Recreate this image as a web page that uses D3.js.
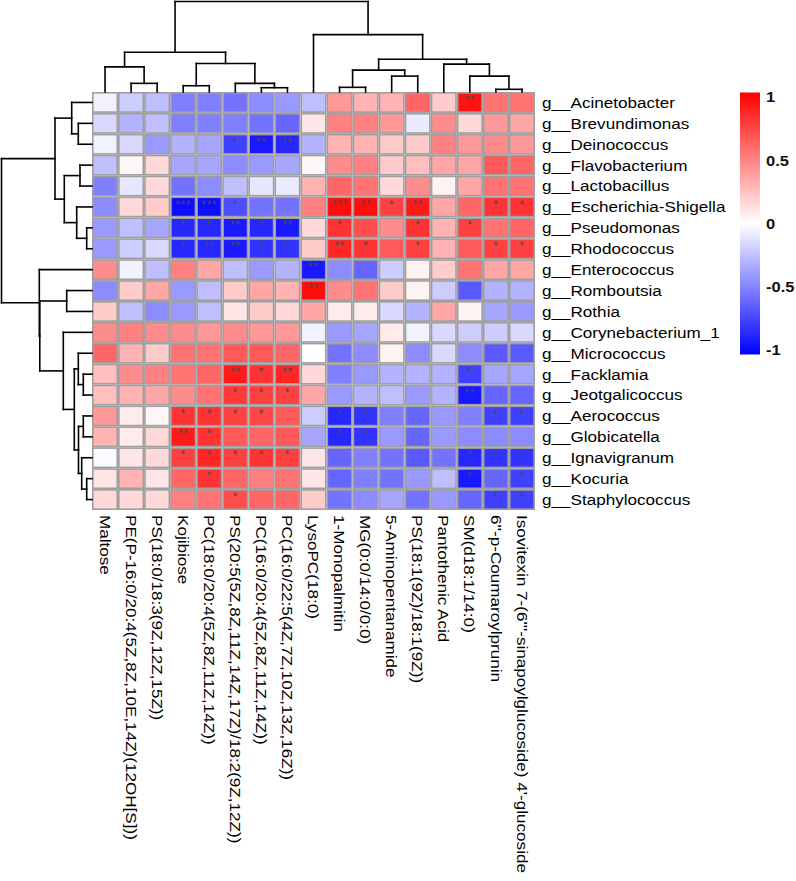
<!DOCTYPE html>
<html>
<head>
<meta charset="utf-8">
<script src="https://cdn.jsdelivr.net/npm/d3@7"></script>
<style>
  html, body { margin: 0; padding: 0; background: #fff; }
  svg { display: block; font-family: "Liberation Sans", Arial, Helvetica, sans-serif; }
</style>
</head>
<body>
<svg id="chart" width="796" height="881"></svg>
<script>
const rowLabels = ["g__Acinetobacter","g__Brevundimonas","g__Deinococcus","g__Flavobacterium","g__Lactobacillus",
  "g__Escherichia-Shigella","g__Pseudomonas","g__Rhodococcus","g__Enterococcus","g__Romboutsia","g__Rothia",
  "g__Corynebacterium_1","g__Micrococcus","g__Facklamia","g__Jeotgalicoccus","g__Aerococcus","g__Globicatella",
  "g__Ignavigranum","g__Kocuria","g__Staphylococcus"];

const colLabels = ["Maltose","PE(P-16:0/20:4(5Z,8Z,10E,14Z)(12OH[S]))","PS(18:0/18:3(9Z,12Z,15Z))","Kojibiose",
  "PC(18:0/20:4(5Z,8Z,11Z,14Z))","PS(20:5(5Z,8Z,11Z,14Z,17Z)/18:2(9Z,12Z))","PC(16:0/20:4(5Z,8Z,11Z,14Z))",
  "PC(16:0/22:5(4Z,7Z,10Z,13Z,16Z))","LysoPC(18:0)","1-Monopalmitin","MG(0:0/14:0/0:0)","5-Aminopentanamide",
  "PS(18:1(9Z)/18:1(9Z))","Pantothenic Acid","SM(d18:1/14:0)","6''-p-Coumaroylprunin",
  "Isovitexin 7-(6'''-sinapoylglucoside) 4'-glucoside"];

// correlation values, one array per row (genus), in column order
const corr = [
  [-0.05,-0.20,-0.25,-0.50,-0.50,-0.55,-0.45,-0.40,-0.25, 0.40, 0.30, 0.30, 0.60, 0.20, 0.92, 0.55, 0.55],
  [-0.15,-0.30,-0.25,-0.50,-0.50,-0.50,-0.55,-0.60, 0.10, 0.50, 0.50, 0.40,-0.08, 0.45, 0.15, 0.40, 0.35],
  [-0.05,-0.15,-0.40,-0.30,-0.35,-0.75,-0.90,-0.85,-0.30, 0.30, 0.30, 0.20, 0.20, 0.50, 0.40, 0.45, 0.40],
  [-0.25, 0.03, 0.15,-0.35,-0.35,-0.45,-0.40,-0.35, 0.03, 0.45, 0.50, 0.20, 0.25, 0.35, 0.35, 0.65, 0.60],
  [-0.50,-0.10, 0.15,-0.55,-0.45,-0.25,-0.10,-0.08, 0.30, 0.60, 0.55, 0.15, 0.45, 0.05, 0.35, 0.55, 0.55],
  [-0.45, 0.15, 0.20,-0.95,-0.95,-0.70,-0.55,-0.55, 0.50, 0.95, 0.95, 0.75, 0.90, 0.35, 0.60, 0.80, 0.80],
  [-0.40,-0.25,-0.35,-0.85,-0.85,-0.90,-0.85,-0.90, 0.15, 0.80, 0.70, 0.45, 0.80, 0.30, 0.75, 0.55, 0.60],
  [-0.40,-0.20,-0.15,-0.85,-0.85,-0.90,-0.80,-0.80, 0.20, 0.85, 0.80, 0.65, 0.75, 0.30, 0.65, 0.75, 0.75],
  [ 0.45,-0.05,-0.25, 0.50, 0.35,-0.25,-0.40,-0.30,-0.90,-0.45,-0.60,-0.20, 0.05, 0.20, 0.55, 0.35, 0.35],
  [-0.45, 0.20, 0.35,-0.40,-0.25, 0.20, 0.35, 0.30, 0.95, 0.45, 0.55, 0.20, 0.05,-0.20,-0.65,-0.30,-0.30],
  [ 0.20,-0.25,-0.45,-0.40,-0.25, 0.10, 0.20, 0.15, 0.35, 0.08, 0.08,-0.15,-0.30, 0.35, 0.05,-0.35,-0.40],
  [ 0.45, 0.50, 0.45, 0.45, 0.40, 0.45, 0.40, 0.40,-0.05,-0.40,-0.35, 0.08,-0.05,-0.15,-0.20,-0.20,-0.15],
  [ 0.60, 0.30, 0.20, 0.55, 0.55, 0.65, 0.65, 0.60, 0.00,-0.55,-0.45, 0.05,-0.45,-0.15,-0.45,-0.65,-0.65],
  [ 0.25, 0.45, 0.50, 0.55, 0.60, 0.90, 0.80, 0.85, 0.15,-0.50,-0.40,-0.30,-0.30,-0.30,-0.75,-0.35,-0.35],
  [ 0.25, 0.30, 0.35, 0.45, 0.55, 0.78, 0.75, 0.75, 0.35,-0.40,-0.30,-0.25,-0.40,-0.30,-0.90,-0.60,-0.60],
  [ 0.40, 0.08, 0.03, 0.80, 0.80, 0.75, 0.72, 0.65,-0.20,-0.85,-0.80,-0.50,-0.60,-0.40,-0.50,-0.75,-0.75],
  [ 0.30, 0.08, 0.15, 0.90, 0.80, 0.65, 0.60, 0.65,-0.35,-0.85,-0.80,-0.40,-0.60,-0.40,-0.45,-0.45,-0.45],
  [-0.02, 0.10, 0.15, 0.75, 0.85, 0.75, 0.80, 0.75, 0.10,-0.60,-0.50,-0.55,-0.65,-0.55,-0.85,-0.80,-0.80],
  [ 0.10, 0.30, 0.10, 0.60, 0.80, 0.60, 0.50, 0.55, 0.10,-0.60,-0.50,-0.55,-0.40,-0.25,-0.90,-0.60,-0.75],
  [ 0.15, 0.15, 0.15, 0.50, 0.55, 0.70, 0.60, 0.60, 0.20,-0.55,-0.45,-0.35,-0.55,-0.40,-0.60,-0.75,-0.75]
];

// significance marks, one array per row
const signif = [
  ["","","","","","","","","","","","","","","**","",""],
  ["","","","","","","","","","","","","","","","",""],
  ["","","","","","*","**","**","","","","","","","","",""],
  ["","","","","","","","","","","","","","","","",""],
  ["","","","","","","","","","","","","","","","",""],
  ["","","","***","***","*","","","","***","**","*","**","","","*","*"],
  ["","","","*","*","**","*","**","","*","","","*","","*","",""],
  ["","","","*","**","**","*","*","","**","*","","*","","","*","*"],
  ["","","","","","","","","**","","","","","","","",""],
  ["","","","","","","","","**","","","","","","","",""],
  ["","","","","","","","","","","","","","","","",""],
  ["","","","","","","","","","","","","","","","",""],
  ["","","","","","","","","","","","","","","","",""],
  ["","","","","","**","*","**","","","","","","","*","",""],
  ["","","","","","*","*","*","","","","","","","**","",""],
  ["","","","*","*","*","*","","","*","*","","","","","*","*"],
  ["","","","**","*","","","","","*","*","","","","","",""],
  ["","","","*","*","*","*","*","","","","","","","*","*","*"],
  ["","","","","*","","","","","","","","","","*","","*"],
  ["","","","","","*","","","","","","","","","","*","*"]
];

// hierarchical clustering: [height, left, right]; leaves are indices
const colTree = [91, [40, [25.3, 0, [8.7, 1, 2]], [28.7, [6.3, 3, 4], [8.7, 5, [4.3, 6, 7]]]],
                     [57.7, 8, [33, [22, [4.7, 9, 10], [16, 11, 12]], [28, 13, [16, 14, [2.7, 15, 16]]]]]];
const rowTree = [90.5, [37, [20.3, 0, [13.7, 1, 2]], [27.7, [12, 3, 4], [15.3, 5, [5.3, 6, 7]]]],
                       [52.7, 8, [52.2, [25.3, 9, 10], [28.7, 11, [17.7, [13.7, 12, [8.7, 13, 14]],
                                                                   [13.5, [8.7, 15, 16], [10.3, 17, [5.3, 18, 19]]]]]]]];

const legendTicks = [1, 0.5, 0, -0.5, -1];

const svg = d3.select("#chart");
const gridL = 92, gridR = 535, gridT = 92, gridB = 510;
const stretch = 1.14;

const x = d3.scaleBand().domain(d3.range(colLabels.length)).range([gridL, gridR]).padding(0);
const y = d3.scaleBand().domain(d3.range(rowLabels.length)).range([gridT, gridB]).padding(0);
const color = d3.scaleLinear().domain([-1, 0, 1]).range(["#0000ff", "#ffffff", "#ff0000"]).clamp(true);

// cells
const cells = [];
corr.forEach((row, i) => row.forEach((v, j) => cells.push({i, j, v, s: signif[i][j]})));

svg.append("g").selectAll("rect").data(cells).join("rect")
  .attr("x", d => x(d.j) + 0.8)
  .attr("y", d => y(d.i) + 0.8)
  .attr("width", x.bandwidth() - 1.6)
  .attr("height", y.bandwidth() - 1.6)
  .attr("fill", d => color(d.v))
  .attr("stroke", "#9f9f9f")
  .attr("stroke-width", 1.6);

svg.append("g").selectAll("text").data(cells.filter(d => d.s)).join("text")
  .attr("x", d => x(d.j) + x.bandwidth() / 2)
  .attr("y", d => y(d.i) + 12)
  .attr("text-anchor", "middle")
  .attr("font-size", 12)
  .attr("letter-spacing", 0.5)
  .attr("fill", "#4a4a4a")
  .text(d => d.s);

// row labels
svg.append("g").selectAll("text").data(rowLabels).join("text")
  .attr("transform", (d, i) => `translate(${gridR + 7},${y(i) + y.bandwidth() / 2}) scale(${stretch},1)`)
  .attr("dy", "0.36em")
  .attr("font-size", 15)
  .attr("fill", "#000")
  .text(d => d);

// column labels (rotated)
svg.append("g").selectAll("text").data(colLabels).join("text")
  .attr("transform", (d, j) => `translate(${x(j) + x.bandwidth() / 2},${gridB + 5}) rotate(90) scale(${stretch},1)`)
  .attr("dy", "0.36em")
  .attr("font-size", 15)
  .attr("fill", "#000")
  .text(d => d);

// dendrograms
function layout(node, posOf) {
  if (typeof node === "number") return {pos: posOf(node), h: 0, leaf: true};
  const a = layout(node[1], posOf), b = layout(node[2], posOf);
  return {pos: (a.pos + b.pos) / 2, h: node[0], kids: [a, b]};
}
function segments(n, out) {
  if (n.leaf) return out;
  const [a, b] = n.kids;
  out.push({p1: a.pos, p2: b.pos, h: n.h, type: "bar"});
  out.push({p: a.pos, h1: a.h, h2: n.h, type: "arm"});
  out.push({p: b.pos, h1: b.h, h2: n.h, type: "arm"});
  segments(a, out); segments(b, out);
  return out;
}

const colRoot = layout(colTree, j => x(j) + x.bandwidth() / 2);
const hTop = d3.scaleLinear().domain([0, colTree[0]]).range([gridT, 1.5]);
const topSegs = segments(colRoot, []);
svg.append("g").selectAll("line").data(topSegs).join("line")
  .attr("x1", d => d.type === "bar" ? d.p1 : d.p)
  .attr("x2", d => d.type === "bar" ? d.p2 : d.p)
  .attr("y1", d => d.type === "bar" ? hTop(d.h) : hTop(d.h1))
  .attr("y2", d => d.type === "bar" ? hTop(d.h) : hTop(d.h2))
  .attr("stroke", "#000").attr("stroke-width", 1.6).attr("stroke-linecap", "square");

const rowRoot = layout(rowTree, i => y(i) + y.bandwidth() / 2);
const hLeft = d3.scaleLinear().domain([0, rowTree[0]]).range([gridL, 1.5]);
const leftSegs = segments(rowRoot, []);
svg.append("g").selectAll("line").data(leftSegs).join("line")
  .attr("y1", d => d.type === "bar" ? d.p1 : d.p)
  .attr("y2", d => d.type === "bar" ? d.p2 : d.p)
  .attr("x1", d => d.type === "bar" ? hLeft(d.h) : hLeft(d.h1))
  .attr("x2", d => d.type === "bar" ? hLeft(d.h) : hLeft(d.h2))
  .attr("stroke", "#000").attr("stroke-width", 1.6).attr("stroke-linecap", "square");

// colour legend
const legY = d3.scaleLinear().domain([-1, 1]).range([350, 97]);
const defs = svg.append("defs");
const grad = defs.append("linearGradient").attr("id", "leg").attr("x1", 0).attr("x2", 0).attr("y1", 1).attr("y2", 0);
[-1, 0, 1].forEach(v => grad.append("stop").attr("offset", (v + 1) / 2).attr("stop-color", color(v)));
svg.append("rect").attr("x", 740).attr("y", 92.5).attr("width", 20).attr("height", 262)
  .attr("fill", "url(#leg)");
svg.append("g").selectAll("text").data(legendTicks).join("text")
  .attr("transform", d => `translate(766,${legY(d)}) scale(1.1,1)`)
  .attr("dy", "0.36em")
  .attr("font-size", 15)
  .attr("font-weight", "bold")
  .attr("fill", "#111")
  .text(d => d);
</script>
</body>
</html>
